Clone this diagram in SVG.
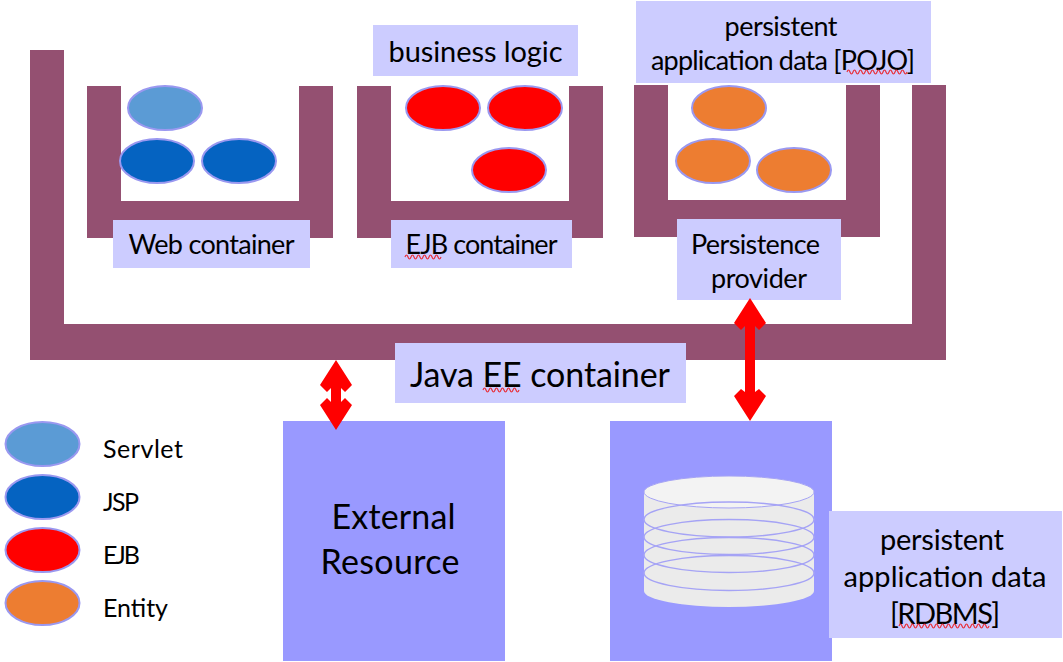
<svg xmlns="http://www.w3.org/2000/svg" width="1063" height="662" viewBox="0 0 1063 662">
<defs>
<path id="cont" d="M0 0H34V115H212V0H246V152H0Z"/>
<path id="sq" d="M0 0q1.500-4 3 0t3 0" fill="none" stroke="#e8303a" stroke-width="1.200"/>
</defs>
<style>
.box{fill:#ccccff}
.wall{fill:#945071}
.res{fill:#9999ff}
.e{stroke:#9a98f0;stroke-width:2}
.servlet{fill:#5b9bd5}
.jsp{fill:#0563c1}
.ejb{fill:#ff0000}
.entity{fill:#ed7d31}
text{font-family:"Lato","Carlito","Liberation Sans",sans-serif;fill:#000;text-anchor:middle}
.t{font-size:27px}
.m{font-size:29px}
.l{font-size:25px;text-anchor:start}
.big{font-size:34px}
.arrow{fill:#ff0000}
.ring{fill:none;stroke:#a5a3f5;stroke-width:1.500}
</style>
<rect width="1063" height="662" fill="#ffffff"/>
<g id="java-ee-container">
<path class="wall" d="M30 50H64V324H912V85H946V360H30Z"/>
</g>
<g id="web-container">
<use href="#cont" class="wall" x="87" y="86"/>
<ellipse class="e servlet" cx="165" cy="108" rx="37" ry="22"/>
<ellipse class="e jsp" cx="157" cy="161" rx="37" ry="22"/>
<ellipse class="e jsp" cx="239" cy="161" rx="37" ry="22"/>
<rect class="box" x="113" y="220" width="197" height="48"/>
<text class="t" x="211.500" y="254" textLength="166">Web container</text>
</g>
<g id="ejb-container">
<use href="#cont" class="wall" x="357" y="86"/>
<ellipse class="e ejb" cx="443" cy="108" rx="37" ry="22"/>
<ellipse class="e ejb" cx="525" cy="108" rx="37" ry="22"/>
<ellipse class="e ejb" cx="509" cy="170" rx="37" ry="22"/>
<rect class="box" x="391" y="220" width="181" height="48"/>
<text class="t" x="481.500" y="254" textLength="152">EJB container</text>
<use href="#sq" x="405" y="257"/><use href="#sq" x="411" y="257"/><use href="#sq" x="417" y="257"/><use href="#sq" x="423" y="257"/><use href="#sq" x="429" y="257"/><use href="#sq" x="435" y="257"/>
</g>
<g id="business-logic">
<rect class="box" x="373" y="25" width="205" height="51"/>
<text class="m" x="475.500" y="62" textLength="174">business logic</text>
</g>
<g id="persistence-provider">
<use href="#cont" class="wall" x="634" y="85"/>
<ellipse class="e entity" cx="729" cy="108" rx="37" ry="22"/>
<ellipse class="e entity" cx="713" cy="161" rx="37" ry="22"/>
<ellipse class="e entity" cx="794" cy="170" rx="37" ry="22"/>
<rect class="box" x="677" y="219" width="164" height="81"/>
<text class="t" x="755.500" y="254" textLength="129">Persistence</text>
<text class="t" x="759" y="288" textLength="96">provider</text>
</g>
<g id="persistent-pojo">
<rect class="box" x="636" y="1" width="295" height="82"/>
<text class="t" x="781" y="36" textLength="113">persistent</text>
<text class="t" x="783" y="70" textLength="264">application data [POJO]</text>
<use href="#sq" x="847" y="72"/><use href="#sq" x="853" y="72"/><use href="#sq" x="859" y="72"/><use href="#sq" x="865" y="72"/><use href="#sq" x="871" y="72"/><use href="#sq" x="877" y="72"/><use href="#sq" x="883" y="72"/><use href="#sq" x="889" y="72"/><use href="#sq" x="895" y="72"/><use href="#sq" x="901" y="72"/>
</g>
<g id="java-ee-label">
<rect class="box" x="395" y="343" width="291" height="60"/>
<text class="big" x="540" y="387" textLength="260">Java EE container</text>
<use href="#sq" x="483" y="390"/><use href="#sq" x="489" y="390"/><use href="#sq" x="495" y="390"/><use href="#sq" x="501" y="390"/><use href="#sq" x="507" y="390"/><use href="#sq" x="513" y="390"/>
</g>
<g id="external-resource">
<rect class="res" x="283" y="421" width="222" height="240"/>
<text class="big" x="393.500" y="529" textLength="124">External</text>
<text class="big" x="390" y="574" textLength="139">Resource</text>
</g>
<g id="rdbms">
<rect class="res" x="610" y="421" width="222" height="240"/>
<path d="M644 492A85 16 0 0 1 814 492V591A85 16 0 0 1 644 591Z" fill="#ebebeb"/>
<ellipse cx="729" cy="492" rx="85" ry="16" fill="#f3f3f3" stroke="#a5a3f5" stroke-width="1"/>
<ellipse class="ring" cx="729" cy="519.500" rx="85" ry="17.500"/>
<ellipse class="ring" cx="729" cy="537" rx="85" ry="17.500"/>
<ellipse class="ring" cx="729" cy="555" rx="85" ry="17.500"/>
<ellipse class="ring" cx="729" cy="573" rx="85" ry="17.500"/>
</g>
<g id="persistent-rdbms">
<rect class="box" x="829" y="511" width="233" height="127"/>
<text class="m" x="942" y="550" textLength="124">persistent</text>
<text class="m" x="945" y="587" textLength="203">application data</text>
<text class="m" x="945" y="624" textLength="110">[RDBMS]</text>
<use href="#sq" x="899" y="626"/><use href="#sq" x="905" y="626"/><use href="#sq" x="911" y="626"/><use href="#sq" x="917" y="626"/><use href="#sq" x="923" y="626"/><use href="#sq" x="929" y="626"/><use href="#sq" x="935" y="626"/><use href="#sq" x="941" y="626"/><use href="#sq" x="947" y="626"/><use href="#sq" x="953" y="626"/><use href="#sq" x="959" y="626"/><use href="#sq" x="965" y="626"/><use href="#sq" x="971" y="626"/><use href="#sq" x="977" y="626"/><use href="#sq" x="983" y="626"/>
</g>
<g id="legend">
<ellipse class="e servlet" cx="42.500" cy="444" rx="37" ry="22"/>
<text class="l" x="103" y="458" textLength="80">Servlet</text>
<ellipse class="e jsp" cx="42.500" cy="497" rx="37" ry="22"/>
<text class="l" x="103" y="511" textLength="36">JSP</text>
<ellipse class="e ejb" cx="42.500" cy="550" rx="37" ry="22"/>
<text class="l" x="103" y="564" textLength="37">EJB</text>
<ellipse class="e entity" cx="42.500" cy="603" rx="37" ry="22"/>
<text class="l" x="103" y="617" textLength="65">Entity</text>
</g>
<g id="connectors">
<path class="arrow" d="M336 360L352 385L345 392L341 388V402L345 398L352 405L336 430L320 405L327 398L331 402V388L327 392L320 385Z"/>
<path class="arrow" d="M750 298L766 323L759 330L755 326V392L759 389L766 396L750 421L734 396L741 389L745 392V326L741 330L734 323Z"/>
</g>
</svg>
